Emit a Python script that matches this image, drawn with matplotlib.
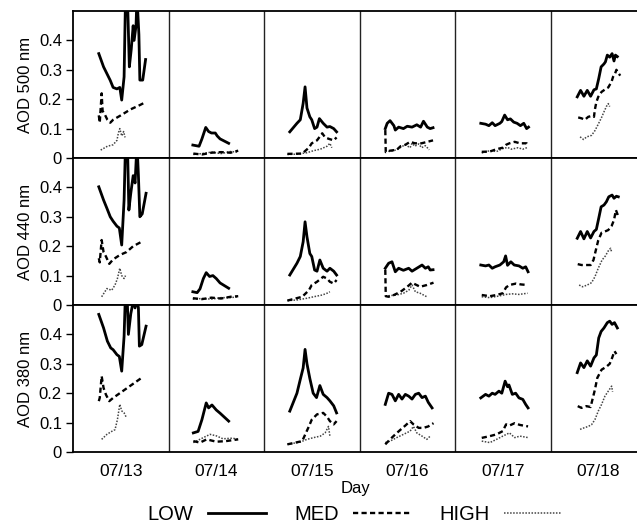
import numpy as np
import matplotlib
matplotlib.use("Agg")
import matplotlib.pyplot as plt
from matplotlib.lines import Line2D

plt.rcParams['font.family'] = ['Liberation Sans', 'DejaVu Sans']

# --- DATA (time as decimal day of July, AOD values) ---
DAYS = ["07/13", "07/14", "07/15", "07/16", "07/17", "07/18"]
WAVELENGTHS = ["AOD 500 nm", "AOD 440 nm", "AOD 380 nm"]
Y_TICKS = [0, 0.1, 0.2, 0.3, 0.4]
Y_TICK_LABELS = ["0", "0.1", "0.2", "0.3", "0.4"]

# 500 nm
T_LOW_500 = [13.27, 13.32, 13.39, 13.42, 13.46, 13.49, 13.51, 13.535, 13.55, 13.57, 13.59, 13.61, 13.63, 13.64, 13.66, 13.67, 13.69, 13.70, 13.73, 13.76,
             14.255, 14.32, 14.35, 14.39, 14.42, 14.45, 14.49, 14.51, 14.54, 14.63,
             15.27, 15.345, 15.38, 15.41, 15.43, 15.45, 15.48, 15.50, 15.53, 15.555, 15.58, 15.62, 15.66, 15.69, 15.73, 15.76,
             16.27, 16.29, 16.32, 16.36, 16.375, 16.41, 16.46, 16.50, 16.55, 16.60, 16.64, 16.67, 16.71, 16.74, 16.77,
             17.27, 17.32, 17.355, 17.39, 17.42, 17.47, 17.49, 17.52, 17.55, 17.58, 17.615, 17.65, 17.685, 17.72, 17.75, 17.77,
             18.28, 18.315, 18.35, 18.385, 18.42, 18.455, 18.48, 18.505, 18.53, 18.56, 18.575, 18.595, 18.62, 18.645, 18.665, 18.68, 18.70]
LOW_500 = [0.355, 0.31, 0.264, 0.24, 0.235, 0.24, 0.197, 0.276, 0.55, 0.55, 0.31, 0.37, 0.45, 0.40, 0.45, 0.55, 0.42, 0.265, 0.265, 0.335,
           0.044, 0.04, 0.065, 0.104, 0.09, 0.085, 0.085, 0.075, 0.065, 0.05,
           0.089, 0.118, 0.13, 0.186, 0.242, 0.17, 0.14, 0.13, 0.1, 0.105, 0.134, 0.118, 0.105, 0.107, 0.1, 0.089,
           0.1, 0.118, 0.127, 0.11, 0.095, 0.105, 0.1, 0.108, 0.105, 0.113, 0.105, 0.125, 0.105, 0.1, 0.103,
           0.118, 0.115, 0.11, 0.12, 0.11, 0.118, 0.124, 0.146, 0.13, 0.133, 0.122, 0.118, 0.11, 0.118, 0.1, 0.105,
           0.208, 0.23, 0.21, 0.23, 0.21, 0.232, 0.235, 0.27, 0.31, 0.32, 0.327, 0.35, 0.343, 0.355, 0.33, 0.35, 0.345]
T_MED_500 = [13.27, 13.28, 13.30, 13.31, 13.33, 13.36, 13.39, 13.42, 13.50, 13.60, 13.70, 13.76,
             14.26, 14.35, 14.45, 14.55, 14.65, 14.73,
             15.245, 15.40, 15.47, 15.50, 15.555, 15.61, 15.64, 15.68, 15.73, 15.76,
             16.27, 16.275, 16.32, 16.39, 16.43, 16.48, 16.53, 16.58, 16.65, 16.71, 16.77,
             17.28, 17.365, 17.435, 17.50, 17.535, 17.57, 17.625, 17.68, 17.75, 17.77,
             18.29, 18.325, 18.36, 18.395, 18.43, 18.455, 18.465, 18.48, 18.50, 18.535, 18.57, 18.605, 18.64, 18.655, 18.675, 18.69, 18.71, 18.73]
MED_500 = [0.145, 0.12, 0.22, 0.16, 0.15, 0.13, 0.12, 0.13, 0.145, 0.165, 0.18, 0.19,
           0.015, 0.012, 0.018, 0.02, 0.018, 0.025,
           0.014, 0.015, 0.035, 0.05, 0.06, 0.084, 0.07, 0.065, 0.06, 0.07,
           0.095, 0.02, 0.025, 0.028, 0.04, 0.045, 0.055, 0.05, 0.05, 0.055, 0.06,
           0.021, 0.022, 0.03, 0.035, 0.045, 0.05, 0.055, 0.05, 0.05, 0.04,
           0.138, 0.135, 0.13, 0.14, 0.143, 0.14, 0.165, 0.19, 0.208, 0.225, 0.233, 0.24, 0.26, 0.276, 0.286, 0.30, 0.29, 0.28]
T_HIGH_500 = [13.29, 13.36, 13.42, 13.46, 13.475, 13.49, 13.51, 13.53, 13.545,
              14.26, 14.35, 14.45, 14.55, 14.65, 14.73,
              15.245, 15.345, 15.45, 15.52, 15.59, 15.66, 15.69, 15.71,
              16.27, 16.32, 16.39, 16.45, 16.48, 16.53, 16.55, 16.58, 16.62, 16.65, 16.69, 16.73,
              17.28, 17.365, 17.435, 17.50, 17.55, 17.59, 17.66, 17.71, 17.76,
              18.31, 18.345, 18.38, 18.43, 18.465, 18.50, 18.535, 18.56, 18.585, 18.605, 18.62]
HIGH_500 = [0.027, 0.04, 0.045, 0.06, 0.085, 0.10, 0.075, 0.09, 0.07,
            0.012, 0.015, 0.02, 0.015, 0.022, 0.02,
            0.012, 0.013, 0.018, 0.025, 0.03, 0.04, 0.05, 0.035,
            0.025, 0.022, 0.028, 0.04, 0.045, 0.035, 0.05, 0.04, 0.048, 0.035, 0.042, 0.028,
            0.017, 0.025, 0.022, 0.032, 0.036, 0.03, 0.035, 0.03, 0.036,
            0.072, 0.063, 0.072, 0.077, 0.093, 0.115, 0.138, 0.157, 0.175, 0.185, 0.175]

# 440 nm
T_LOW_440 = [13.27, 13.32, 13.355, 13.39, 13.42, 13.46, 13.485, 13.51, 13.535, 13.55, 13.57, 13.585, 13.605, 13.63, 13.65, 13.67, 13.685, 13.70, 13.725, 13.765,
             14.255, 14.30, 14.33, 14.365, 14.395, 14.43, 14.465, 14.50, 14.54, 14.63,
             15.27, 15.345, 15.38, 15.41, 15.43, 15.45, 15.48, 15.50, 15.53, 15.555, 15.585, 15.62, 15.66, 15.69, 15.73, 15.76,
             16.27, 16.305, 16.34, 16.375, 16.41, 16.46, 16.515, 16.55, 16.60, 16.655, 16.69, 16.72, 16.74, 16.77,
             17.27, 17.32, 17.355, 17.39, 17.42, 17.47, 17.51, 17.53, 17.55, 17.585, 17.62, 17.67, 17.71, 17.74, 17.765,
             18.28, 18.315, 18.35, 18.385, 18.42, 18.455, 18.48, 18.505, 18.53, 18.56, 18.585, 18.61, 18.645, 18.665, 18.69, 18.71]
LOW_440 = [0.402, 0.357, 0.329, 0.30, 0.285, 0.268, 0.262, 0.204, 0.357, 0.55, 0.55, 0.323, 0.38, 0.44, 0.415, 0.55, 0.44, 0.30, 0.31, 0.38,
           0.045, 0.042, 0.055, 0.09, 0.11, 0.097, 0.10, 0.09, 0.075, 0.057,
           0.102, 0.142, 0.165, 0.215, 0.283, 0.232, 0.175, 0.165, 0.119, 0.115, 0.153, 0.125, 0.115, 0.125, 0.115, 0.102,
           0.125, 0.142, 0.147, 0.113, 0.125, 0.118, 0.125, 0.115, 0.125, 0.136, 0.125, 0.13, 0.119, 0.12,
           0.136, 0.133, 0.136, 0.125, 0.13, 0.136, 0.147, 0.167, 0.135, 0.147, 0.136, 0.133, 0.125, 0.13, 0.113,
           0.227, 0.25, 0.225, 0.25, 0.228, 0.25, 0.257, 0.295, 0.334, 0.34, 0.351, 0.368, 0.374, 0.363, 0.37, 0.368]
T_MED_440 = [13.27, 13.28, 13.30, 13.32, 13.345, 13.38, 13.42, 13.49, 13.56, 13.63, 13.735,
             14.255, 14.35, 14.45, 14.55, 14.65, 14.73,
             15.245, 15.40, 15.47, 15.50, 15.555, 15.62, 15.66, 15.69, 15.73, 15.76,
             16.27, 16.275, 16.305, 16.36, 16.43, 16.50, 16.55, 16.585, 16.635, 16.705, 16.775,
             17.28, 17.365, 17.435, 17.50, 17.535, 17.57, 17.64, 17.69, 17.76,
             18.285, 18.325, 18.375, 18.42, 18.45, 18.475, 18.50, 18.535, 18.57, 18.605, 18.64, 18.665, 18.685, 18.70, 18.71]
MED_440 = [0.159, 0.145, 0.221, 0.18, 0.165, 0.14, 0.155, 0.17, 0.18, 0.20, 0.218,
           0.023, 0.02, 0.025, 0.022, 0.028, 0.03,
           0.015, 0.028, 0.05, 0.068, 0.079, 0.096, 0.09, 0.079, 0.073, 0.085,
           0.12, 0.03, 0.028, 0.034, 0.045, 0.062, 0.076, 0.07, 0.062, 0.068, 0.076,
           0.034, 0.03, 0.034, 0.04, 0.06, 0.068, 0.073, 0.07, 0.068,
           0.139, 0.136, 0.136, 0.136, 0.153, 0.187, 0.22, 0.246, 0.25, 0.255, 0.269, 0.289, 0.323, 0.31, 0.30]
T_HIGH_440 = [13.30, 13.355, 13.405, 13.44, 13.465, 13.49, 13.51, 13.535, 13.55,
              14.255, 14.35, 14.45, 14.55, 14.65, 14.73,
              15.245, 15.345, 15.45, 15.52, 15.61, 15.66, 15.69,
              16.27, 16.32, 16.39, 16.46, 16.515, 16.55, 16.585, 16.635, 16.705,
              17.28, 17.365, 17.45, 17.535, 17.60, 17.67, 17.76,
              18.30, 18.335, 18.385, 18.43, 18.465, 18.50, 18.54, 18.575, 18.61, 18.63, 18.64]
HIGH_440 = [0.028, 0.056, 0.05, 0.068, 0.09, 0.125, 0.10, 0.09, 0.10,
            0.02, 0.022, 0.02, 0.025, 0.025, 0.028,
            0.015, 0.017, 0.023, 0.028, 0.034, 0.04, 0.045,
            0.03, 0.032, 0.034, 0.04, 0.05, 0.068, 0.045, 0.04, 0.028,
            0.028, 0.025, 0.03, 0.036, 0.038, 0.036, 0.04,
            0.068, 0.062, 0.068, 0.076, 0.096, 0.125, 0.153, 0.167, 0.187, 0.193, 0.18]

# 380 nm
T_LOW_380 = [13.27, 13.32, 13.36, 13.395, 13.42, 13.46, 13.485, 13.51, 13.535, 13.55, 13.565, 13.58, 13.605, 13.635, 13.65, 13.67, 13.685, 13.695, 13.72, 13.765,
             14.26, 14.31, 14.35, 14.395, 14.42, 14.455, 14.50, 14.54, 14.63,
             15.27, 15.345, 15.38, 15.41, 15.43, 15.45, 15.48, 15.515, 15.55, 15.585, 15.62, 15.66, 15.69, 15.73, 15.76,
             16.27, 16.305, 16.34, 16.375, 16.41, 16.445, 16.48, 16.515, 16.55, 16.585, 16.62, 16.655, 16.69, 16.72, 16.76,
             17.27, 17.32, 17.355, 17.39, 17.42, 17.46, 17.49, 17.525, 17.55, 17.565, 17.60, 17.635, 17.67, 17.71, 17.74, 17.765,
             18.28, 18.315, 18.35, 18.385, 18.42, 18.455, 18.48, 18.505, 18.53, 18.56, 18.595, 18.62, 18.645, 18.67, 18.70]
LOW_380 = [0.468, 0.422, 0.377, 0.354, 0.348, 0.331, 0.325, 0.275, 0.394, 0.55, 0.55, 0.40, 0.47, 0.52, 0.49, 0.52, 0.49, 0.36, 0.365, 0.428,
           0.065, 0.07, 0.11, 0.167, 0.15, 0.16, 0.143, 0.132, 0.105,
           0.139, 0.20, 0.247, 0.286, 0.349, 0.30, 0.25, 0.20, 0.185, 0.226, 0.196, 0.185, 0.174, 0.157, 0.133,
           0.162, 0.20, 0.196, 0.174, 0.196, 0.18, 0.196, 0.19, 0.18, 0.196, 0.20, 0.185, 0.19, 0.169, 0.15,
           0.184, 0.196, 0.19, 0.20, 0.196, 0.207, 0.20, 0.241, 0.222, 0.228, 0.196, 0.20, 0.184, 0.179, 0.162, 0.15,
           0.27, 0.303, 0.287, 0.31, 0.292, 0.32, 0.33, 0.388, 0.41, 0.422, 0.44, 0.445, 0.434, 0.44, 0.422]
T_MED_380 = [13.27, 13.28, 13.30, 13.32, 13.345, 13.38, 13.42, 13.49, 13.595, 13.735,
             14.26, 14.33, 14.40, 14.50, 14.60, 14.73,
             15.245, 15.40, 15.47, 15.50, 15.555, 15.62, 15.66, 15.69, 15.73, 15.76,
             16.27, 16.32, 16.375, 16.43, 16.48, 16.53, 16.565, 16.62, 16.67, 16.72, 16.775,
             17.28, 17.365, 17.435, 17.50, 17.535, 17.57, 17.625, 17.68, 17.765,
             18.285, 18.325, 18.375, 18.42, 18.435, 18.465, 18.49, 18.535, 18.585, 18.62, 18.645, 18.67, 18.69]
MED_380 = [0.173, 0.184, 0.258, 0.218, 0.195, 0.173, 0.184, 0.20, 0.224, 0.256,
           0.037, 0.032, 0.043, 0.035, 0.037, 0.043,
           0.026, 0.037, 0.087, 0.11, 0.128, 0.133, 0.12, 0.105, 0.094, 0.105,
           0.026, 0.043, 0.06, 0.076, 0.09, 0.105, 0.094, 0.082, 0.082, 0.087, 0.098,
           0.048, 0.054, 0.06, 0.071, 0.094, 0.09, 0.098, 0.092, 0.087,
           0.156, 0.15, 0.156, 0.153, 0.173, 0.212, 0.252, 0.28, 0.29, 0.30, 0.32, 0.343, 0.333]
T_HIGH_380 = [13.30, 13.355, 13.405, 13.44, 13.465, 13.49, 13.51, 13.535, 13.555,
              14.26, 14.365, 14.435, 14.50, 14.57, 14.67, 14.73,
              15.245, 15.38, 15.45, 15.52, 15.59, 15.64, 15.675, 15.69,
              16.27, 16.32, 16.39, 16.46, 16.53, 16.565, 16.60, 16.655, 16.705, 16.74,
              17.28, 17.365, 17.435, 17.50, 17.57, 17.625, 17.68, 17.765,
              18.31, 18.35, 18.395, 18.43, 18.465, 18.50, 18.535, 18.57, 18.605, 18.64, 18.65]
HIGH_380 = [0.043, 0.06, 0.07, 0.076, 0.11, 0.162, 0.14, 0.133, 0.12,
            0.032, 0.049, 0.06, 0.055, 0.045, 0.047, 0.043,
            0.026, 0.034, 0.043, 0.049, 0.054, 0.065, 0.087, 0.054,
            0.032, 0.037, 0.049, 0.06, 0.071, 0.087, 0.065, 0.054, 0.043, 0.054,
            0.037, 0.032, 0.043, 0.054, 0.065, 0.049, 0.054, 0.049,
            0.077, 0.082, 0.087, 0.093, 0.11, 0.139, 0.162, 0.19, 0.207, 0.224, 0.205]

ROWS = [
    (T_LOW_500, LOW_500, T_MED_500, MED_500, T_HIGH_500, HIGH_500),
    (T_LOW_440, LOW_440, T_MED_440, MED_440, T_HIGH_440, HIGH_440),
    (T_LOW_380, LOW_380, T_MED_380, MED_380, T_HIGH_380, HIGH_380),
]

# --- STYLES ---
STYLE_LOW = dict(color='black', linewidth=2.0, linestyle='-')
STYLE_MED = dict(color='black', linewidth=1.7, linestyle=(0, (2.2, 1.4)))
STYLE_HIGH = dict(color='#444444', linewidth=1.1, linestyle=(0, (1, 1)))


def plot_by_day(ax, t, v, style):
    """Plot a series, breaking the line between days."""
    t = np.asarray(t)
    v = np.asarray(v)
    day = np.floor(t)
    for d in np.unique(day):
        m = day == d
        ax.plot(t[m], v[m], **style)


W, H = 637, 524
fig = plt.figure(figsize=(W / 100, H / 100), dpi=100)

left_px, right_px = 73, 646
row_tops = [11, 158, 305]
row_h = 147

axes = []
for i, (tl, vl, tm, vm, th, vh) in enumerate(ROWS):
    ax = fig.add_axes([left_px / W, 1 - (row_tops[i] + row_h) / H,
                       (right_px - left_px) / W, row_h / H])
    plot_by_day(ax, th, vh, STYLE_HIGH)
    plot_by_day(ax, tm, vm, STYLE_MED)
    plot_by_day(ax, tl, vl, STYLE_LOW)
    for d in range(14, 19):
        ax.axvline(d, color='#222222', linewidth=1.0)
    ax.set_xlim(13, 19)
    ax.set_ylim(0, 0.5)
    ax.set_yticks(Y_TICKS)
    ax.set_yticklabels(Y_TICK_LABELS)
    ax.set_ylabel(WAVELENGTHS[i], fontsize=12, labelpad=4)
    ax.tick_params(axis='y', direction='out', length=5, width=1, labelsize=12, pad=3)
    ax.set_xticks([d + 0.5 for d in range(13, 19)])
    ax.tick_params(axis='x', length=0, labelsize=12.5, pad=9)
    if i < 2:
        ax.set_xticklabels([])
    else:
        ax.set_xticklabels(DAYS)
    for s in ax.spines.values():
        s.set_linewidth(1.3)
    axes.append(ax)

fig.text(356 / W, 1 - 489 / H, "Day", ha='center', va='center', fontsize=12)

handles = [Line2D([], [], **STYLE_LOW), Line2D([], [], **STYLE_MED), Line2D([], [], **STYLE_HIGH)]
fig.legend(handles, ["LOW", "MED", "HIGH"], loc='center',
           bbox_to_anchor=(355 / W, 1 - 515 / H), ncol=3, frameon=False,
           markerfirst=False, fontsize=14.5, handlelength=2.9,
           handletextpad=0.7, columnspacing=1.4, borderaxespad=0, borderpad=0)

fig.savefig("out.png", dpi=100)
